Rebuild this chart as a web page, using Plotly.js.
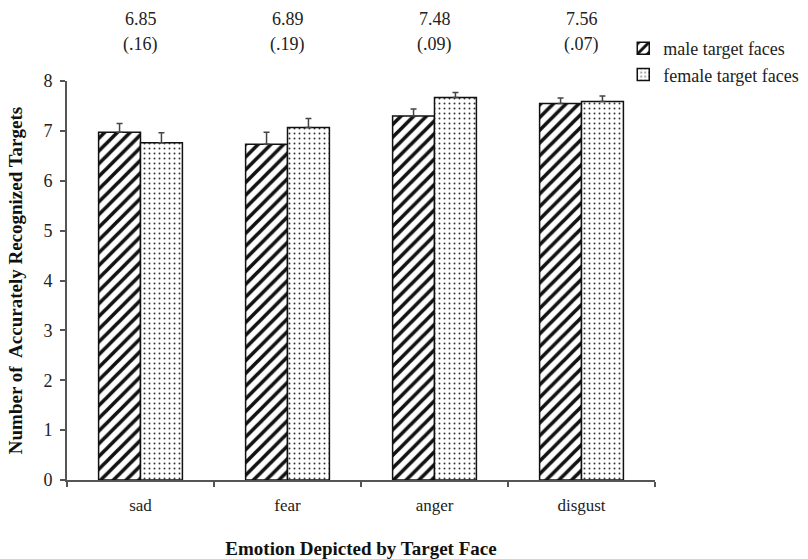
<!DOCTYPE html>
<html><head><meta charset="utf-8">
<script src="https://cdn.plot.ly/plotly-3.0.1.min.js"></script>
<style>body{margin:0;background:#fff}#c{width:808px;height:559px}</style>
</head><body><div id="c"></div>
<script>
const categories = ["sad", "fear", "anger", "disgust"];
const maleValues = [6.97, 6.73, 7.30, 7.55];
const maleErrors = [0.18, 0.24, 0.14, 0.11];
const femaleValues = [6.76, 7.07, 7.67, 7.59];
const femaleErrors = [0.20, 0.18, 0.10, 0.11];
const means = ["6.85", "6.89", "7.48", "7.56"];
const sds = ["(.16)", "(.19)", "(.09)", "(.07)"];
const seriesNames = ["male target faces", "female target faces"];

const font = "Liberation Serif";
const traces = [
  {type: "bar", name: seriesNames[0], x: categories, y: maleValues,
   marker: {color: "white", line: {color: "#111", width: 1.5},
            pattern: {shape: "/", fgcolor: "#111", bgcolor: "white", size: 9, solidity: 0.4}},
   error_y: {type: "data", array: maleErrors, arrayminus: maleErrors.map(() => 0), symmetric: false,
             color: "#444", thickness: 1.5, width: 3}},
  {type: "bar", name: seriesNames[1], x: categories, y: femaleValues,
   marker: {color: "white", line: {color: "#111", width: 1.5},
            pattern: {shape: ".", fgcolor: "#333", bgcolor: "white", size: 5, solidity: 0.12}},
   error_y: {type: "data", array: femaleErrors, arrayminus: femaleErrors.map(() => 0), symmetric: false,
             color: "#444", thickness: 1.5, width: 3}}
];
const ann = [];
categories.forEach((c, i) => {
  ann.push({x: c, xref: "x", y: 1.0 + (81 - 19) / 399, yref: "paper",
    text: means[i], showarrow: false, yanchor: "middle", font: {family: font, size: 18, color: "#222"}});
  ann.push({x: c, xref: "x", y: 1.0 + (81 - 44) / 399, yref: "paper",
    text: sds[i], showarrow: false, yanchor: "middle", font: {family: font, size: 18, color: "#222"}});
});
const layout = {
  width: 808, height: 559,
  margin: {l: 67, r: 153, t: 81, b: 79, autoexpand: false},
  paper_bgcolor: "white", plot_bgcolor: "white",
  barmode: "group", bargap: 0.43, bargroupgap: 0,
  font: {family: font, size: 14, color: "#222"},
  xaxis: {showline: true, linecolor: "#555", linewidth: 2, ticks: "outside", tickson: "boundaries",
          ticklen: 5, tickcolor: "#555", tickwidth: 2, showgrid: false, zeroline: false,
          automargin: false, ticklabelstandoff: 9,
          tickfont: {family: font, size: 17, color: "#222"},
          title: {text: "<b>Emotion Depicted by Target Face</b>", standoff: 40,
                  font: {family: font, size: 19, color: "#111"}}},
  yaxis: {range: [0, 8], dtick: 1, showline: true, linecolor: "#555", linewidth: 2, ticks: "outside",
          ticklen: 5, tickcolor: "#555", tickwidth: 2, showgrid: false, zeroline: false,
          automargin: false, ticklabelstandoff: 4,
          tickfont: {family: font, size: 18, color: "#222"},
          title: {text: "<b>Number of  Accurately Recognized Targets</b>", standoff: 16,
                  font: {family: font, size: 19, color: "#111"}}},
  legend: {x: 0.946, y: 1.128, xanchor: "left", yanchor: "top", bgcolor: "rgba(0,0,0,0)",
           font: {family: font, size: 18, color: "#222"}, itemwidth: 30, tracegroupgap: 2},
  annotations: ann,
  showlegend: true
};
Plotly.newPlot("c", traces, layout, {displayModeBar: false, staticPlot: true});
</script></body></html>
